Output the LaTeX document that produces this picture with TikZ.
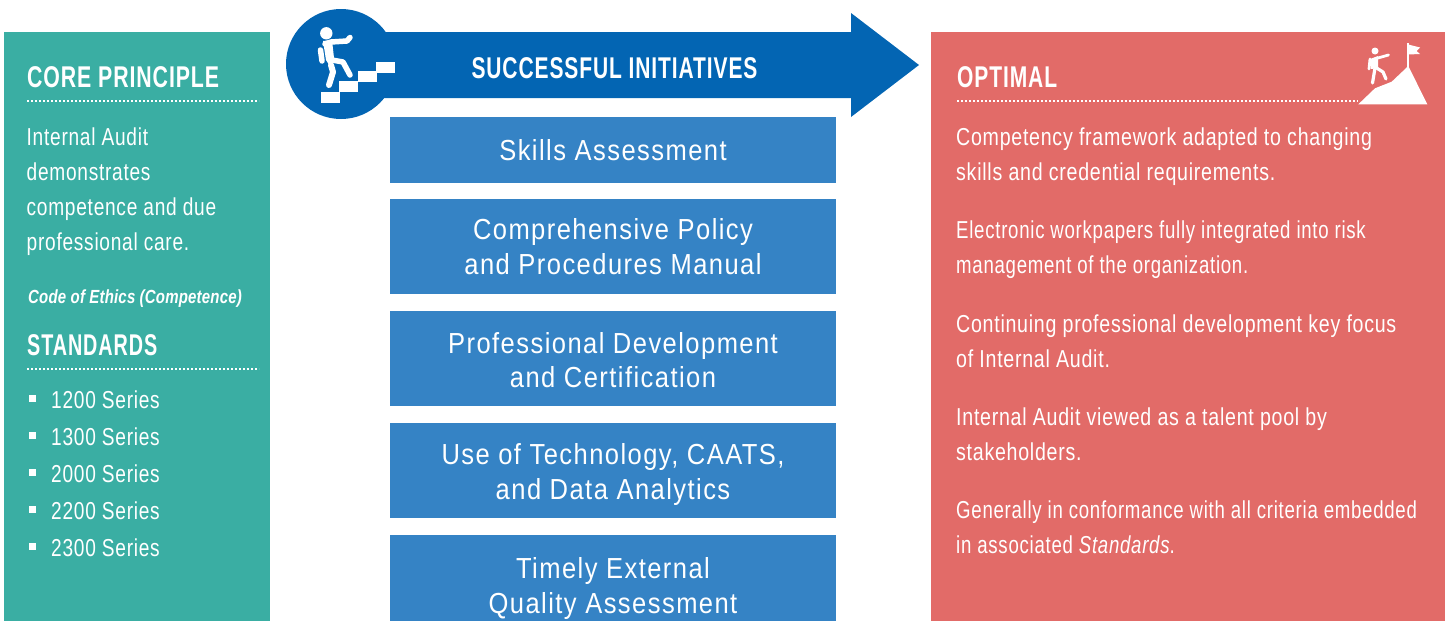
\documentclass[tikz,border=0pt]{standalone}
\usepackage{fontspec}
\setmainfont[FakeStretch=0.80,LetterSpace=3,ItalicFont={Liberation Sans Italic}]{Liberation Sans}
\newfontfamily\narrowfont[FakeStretch=0.76,LetterSpace=3,ItalicFont={Liberation Sans Italic}]{Liberation Sans}
\newfontfamily\seriesfont[FakeStretch=0.78,LetterSpace=3]{Liberation Sans}
\newfontfamily\itemfont[FakeStretch=0.88,LetterSpace=5]{Liberation Sans}
\newfontfamily\headfont[FakeStretch=0.70,LetterSpace=3]{Liberation Sans Bold}
\newfontfamily\corefont[FakeStretch=0.71,LetterSpace=3]{Liberation Sans Bold}
\newfontfamily\standfont[FakeStretch=0.66,LetterSpace=3]{Liberation Sans Bold}
\newfontfamily\headitalic[FakeStretch=0.79,LetterSpace=1]{Liberation Sans Bold Italic}
\definecolor{tealp}{HTML}{3AAEA3}
\definecolor{redp}{HTML}{E26B68}
\definecolor{bluea}{HTML}{0365B3}
\definecolor{blueb}{HTML}{3583C5}
\tikzset{
 x=1pt,y=-1pt,
 panel/.style={fill=#1,draw=none},
 itembox/.style={fill=blueb,draw=none,anchor=north west,minimum width=446pt,inner sep=0pt},
 itemtext/.style={text=white,anchor=center,inner sep=0pt,align=center,font=\itemfont\fontsize{29}{34.5}\selectfont},
 head/.style={text=white,anchor=base west,inner sep=0pt,font=\headfont\fontsize{30}{36}\selectfont},
 body/.style={text=white,anchor=base west,inner sep=0pt,align=left,font=\fontsize{24.5}{35}\selectfont},
 dots/.style={white,line width=1.8pt,dash pattern=on 1.8pt off 2.2pt},
 ico/.style={white,line width=#1,line cap=round,line join=round},
}
\begin{document}
\begin{tikzpicture}
\useasboundingbox (0,0) rectangle (1445,621);
% panels
\fill[panel=tealp] (4,32) rectangle (270,621);
\fill[panel=redp] (931,32) rectangle (1445,621);
% arrow
\fill[bluea] (341,64) circle (55);
\fill[bluea] (341,32) -- (851,32) -- (851,13) -- (919,65) -- (851,117) -- (851,98) -- (341,98) -- cycle;
% stair icon
\fill[white] (321,92) rectangle (340,103);
\fill[white] (339,81) rectangle (358,92);
\fill[white] (358,71) rectangle (377,82);
\fill[white] (376,62) rectangle (395,73);
\fill[white] (326.3,33.3) circle (6.2);
\draw[ico=5.5pt] (325,44) -- (331,42) -- (347,41) -- (350,37.5);
\draw[ico=5.5pt] (320.5,50) -- (322,61);
\fill[white] (323,41) -- (332,40) -- (334,58) -- (331,68) -- (326,60) -- cycle;
\draw[ico=6pt] (331,65) -- (333,72) -- (329,85);
\draw[ico=5.5pt] (332,60) -- (343,62) -- (350,75);
% mountain icon
\fill[white] (1358.3,104.3) -- (1375,88.3) -- (1391.7,81.7) -- (1408.3,66) -- (1427.3,104.3) -- cycle;
\draw[white,line width=2pt] (1408.3,43) -- (1408.3,68);
\fill[white] (1408.3,44.5) -- (1420,47.5) -- (1416.5,51) -- (1420,54) -- (1408.3,54.5) -- cycle;
\fill[white] (1375,51) circle (3.5);
\fill[white] (1370,59) -- (1378,56) -- (1378,68) -- (1371,69) -- cycle;
\draw[ico=2.8pt] (1370,59) -- (1369,69);
\draw[ico=2.8pt] (1378,58) -- (1388.5,55);
\draw[ico=3.2pt] (1375,68) -- (1372.5,83);
\draw[ico=3.2pt] (1375,67) -- (1383,72) -- (1386,79);
% left panel text
\node[head,font=\corefont\fontsize{30}{36}\selectfont] (core) at (27,87) {CORE PRINCIPLE};
\draw[dots] (27,101) -- (259,101);
\node[body,font=\seriesfont\fontsize{24.5}{35}\selectfont] (coretext) at (26.5,250) {Internal Audit\\demonstrates\\competence and due\\professional care.};
\node[text=white,anchor=base west,inner sep=0pt,font=\headitalic\fontsize{19}{23}\selectfont] (ethics) at (28,303) {Code of Ethics (Competence)};
\node[head,font=\standfont\fontsize{30}{36}\selectfont] (stand) at (27,355) {STANDARDS};
\draw[dots] (27,369) -- (259,369);
\foreach \n/\y/\t in {a/408/1200,b/445/1300,c/482/2000,d/519/2200,e/556/2300}{
  \fill[white] (29,\y-13) rectangle (36,\y-6);
  \node[body,font=\seriesfont\fontsize{24.5}{35}\selectfont] (s\n) at (51,\y) {\t{} Series};
}
% arrow title
\node[text=white,anchor=base,inner sep=0pt,font=\headfont\fontsize{30}{36}\selectfont] (title) at (614.5,78) {SUCCESSFUL INITIATIVES};
% boxes
\node[itembox,minimum height=66pt] (b1) at (390,117) {};
\node[itembox,minimum height=95pt] (b2) at (390,199) {};
\node[itembox,minimum height=95pt] (b3) at (390,311) {};
\node[itembox,minimum height=95pt] (b4) at (390,423) {};
\node[itembox,minimum height=86pt] (b5) at (390,535) {};
\node[itemtext] (t1) at (613,150) {Skills Assessment};
\node[itemtext] (t2) at (613,246.5) {Comprehensive Policy\\and Procedures Manual};
\node[itemtext] (t3) at (613,360) {Professional Development\\and Certification};
\node[itemtext] (t4) at (613,474.5) {Use of Technology, CAATS,\\and Data Analytics};
\node[itemtext] (t5) at (613,588.5) {Timely External\\Quality Assessment};
% right panel text
\node[head] (opt) at (957,87) {OPTIMAL};
\draw[dots] (957,101) -- (1358,101);
\node[body] (r1) at (956,180) {Competency framework adapted to changing\\skills and credential requirements.};
\node[body,font=\narrowfont\fontsize{24.5}{35}\selectfont] (r2) at (956,273.7) {Electronic workpapers fully integrated into risk\\management of the organization.};
\node[body] (r3) at (956,367) {Continuing professional development key focus\\of Internal Audit.};
\node[body] (r4) at (956,460) {Internal Audit viewed as a talent pool by\\stakeholders.};
\node[body,font=\narrowfont\fontsize{24.5}{35}\selectfont] (r5) at (956,553.7) {Generally in conformance with all criteria embedded\\in associated \textit{Standards}.};
\end{tikzpicture}
\end{document}
